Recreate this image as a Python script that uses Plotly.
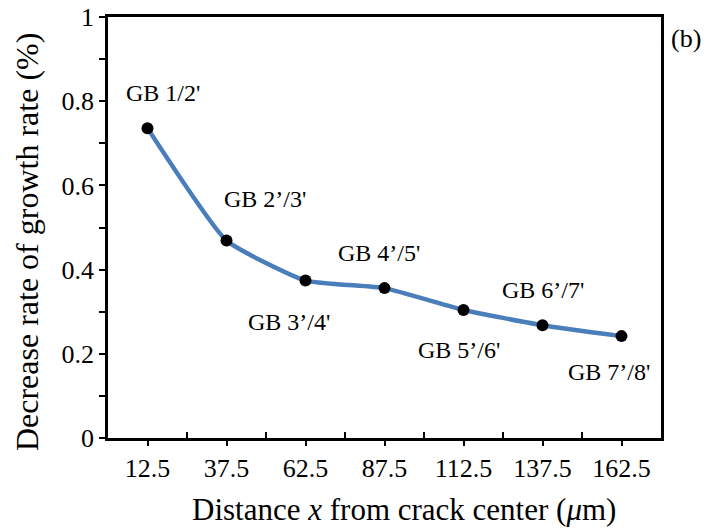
import plotly.graph_objects as go

categories = ["12.5", "37.5", "62.5", "87.5", "112.5", "137.5", "162.5"]
decrease_rate = [0.736, 0.469, 0.374, 0.356, 0.304, 0.268, 0.242]
gb_labels = ["GB 1/2'", "GB 2\u2019/3'", "GB 3\u2019/4'", "GB 4\u2019/5'",
             "GB 5\u2019/6'", "GB 6\u2019/7'", "GB 7\u2019/8'"]
y_ticks = [0, 0.2, 0.4, 0.6, 0.8, 1]
y_tick_text = ["0", "0.2", "0.4", "0.6", "0.8", "1"]
x_title = "Distance <i>x</i> from crack center (<i>\u03bc</i>m)"
y_title = "Decrease rate of growth rate (%)"

xpos = list(range(len(categories)))
FONT = "Liberation Serif, Times New Roman, serif"

fig = go.Figure()
fig.add_trace(go.Scatter(
    x=xpos, y=decrease_rate, mode="lines+markers",
    line=dict(color="#4a7ebb", width=4.5, shape="spline", smoothing=0.45),
    marker=dict(color="black", size=12),
    showlegend=False, hoverinfo="skip",
))

# label offsets (pixels) relative to each point
offsets = [(15, 35), (38, 42), (-17, -41), (-6, 35), (-5, -40), (0, 35), (-13, -36)]
for xi, yi, lab, (dx, dy) in zip(xpos, decrease_rate, gb_labels, offsets):
    fig.add_annotation(x=xi, y=yi, xref="x", yref="y", text=lab, showarrow=False,
                       xshift=dx, yshift=dy, font=dict(family=FONT, size=24, color="black"))

fig.add_annotation(x=1.0, y=0.95, xref="paper", yref="paper", text="(b)", showarrow=False,
                   xanchor="left", yanchor="middle", xshift=8,
                   font=dict(family=FONT, size=26, color="black"))

# axis titles
fig.add_annotation(x=0.535, y=-0.169, xref="paper", yref="paper", text=x_title,
                   showarrow=False, xanchor="center", yanchor="middle",
                   font=dict(family=FONT, size=31, color="black"))
fig.add_annotation(x=-0.146, y=0.466, xref="paper", yref="paper", text=y_title,
                   showarrow=False, textangle=-90, xanchor="center", yanchor="middle",
                   font=dict(family=FONT, size=32, color="black"))

fig.update_layout(
    width=711, height=529,
    margin=dict(l=108, r=50, t=17, b=91),
    paper_bgcolor="white", plot_bgcolor="white",
    font=dict(family=FONT, color="black"),
)
fig.update_xaxes(
    automargin=False,
    range=[-0.5, len(categories) - 0.5],
    tickmode="array", tickvals=xpos, ticktext=categories,
    ticks="outside", ticklen=5, tickwidth=2, tickcolor="black",
    minor=dict(tickvals=[i + 0.5 for i in xpos[:-1]], ticks="inside", ticklen=6,
               tickwidth=2, tickcolor="black"),
    showline=True, linewidth=2.5, linecolor="black", mirror=True,
    showgrid=False, zeroline=False,
    tickfont=dict(size=26, family=FONT),
)
fig.update_yaxes(
    automargin=False,
    range=[0, 1], tickmode="array", tickvals=y_ticks, ticktext=y_tick_text,
    ticks="outside", ticklen=6, tickwidth=2, tickcolor="black",
    minor=dict(dtick=0.1, ticks="outside", ticklen=6, tickwidth=2, tickcolor="black"),
    showline=True, linewidth=2.5, linecolor="black", mirror=True,
    showgrid=False, zeroline=False,
    tickfont=dict(size=26, family=FONT),
)

# remove the browser's default 8px body margin so the figure fills the window exactly
fig.write_html("out.html", config={"displayModeBar": False},
               post_script="document.body.style.margin='0';")
